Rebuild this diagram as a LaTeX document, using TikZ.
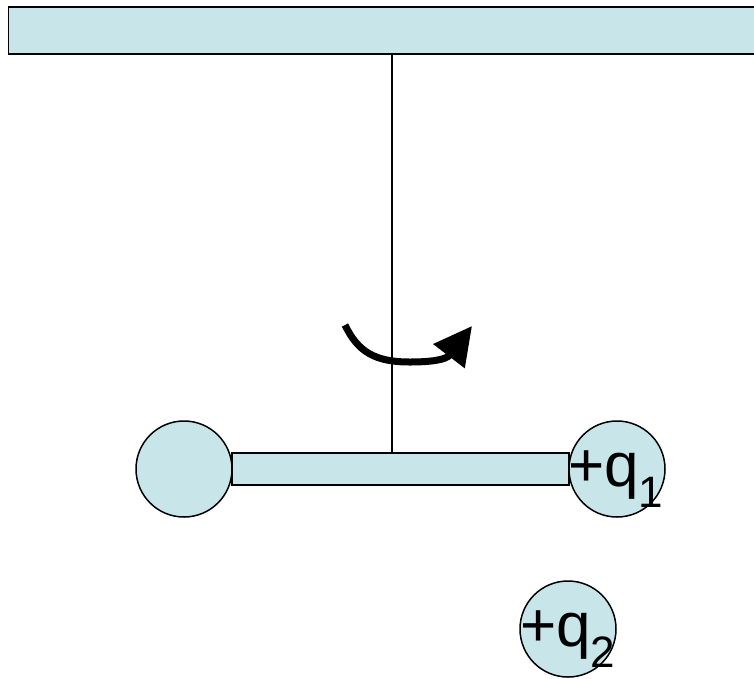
\documentclass[tikz,border=0pt]{standalone}
\usepackage{fontspec}
\setmainfont{Liberation Sans}
\usetikzlibrary{arrows.meta}
\definecolor{palecyan}{HTML}{C8E6E9}
\tikzset{
bar/.style = {draw, fill=palecyan, rectangle, inner sep=0pt, line width=1.5pt},
ball/.style = {draw, fill=palecyan, circle, inner sep=0pt, minimum size=96pt, line width=1.5pt},
charge/.style = {anchor=base west, inner sep=0pt, font=\fontsize{62}{62}\selectfont},
tmp/.style = {coordinate}
}
\newcommand{\chargetext}[1]{+q\raisebox{-21pt}{\fontsize{44}{44}\selectfont #1}}

\begin{document}
\begin{tikzpicture}[x=1pt, y=-1pt, >={Triangle[length=38pt,width=38pt]}]
    \useasboundingbox (0,0) rectangle (754,678);
    % the support and the hanging rod
    \node [bar, minimum width=772pt, minimum height=47pt, anchor=north west] (ceiling) at (7.5,6) {};
    \node [bar, minimum width=337pt, minimum height=32pt] (rod) at (400.5,469) {};
    \node [ball] (left) at (184,469) {};
    \node [ball] (right) at (617,469) {};
    \node [ball] (lower) at (568,629) {};
    \node [tmp] (pivot) at (392,453) {};
    \node [tmp] (start) at (345,325) {};
    \node [tmp] (low) at (410,362) {};
    \node [tmp] (tip) at (472,326) {};

    % labels
    \node [charge] (q1) at (568,486) {\chargetext{1}};
    \node [charge] (q2) at (520,646) {\chargetext{2}};

    % wire and the turning arrow
    \draw [line width=1.5pt] (pivot) -- (pivot |- ceiling.south);
    \draw [->, line width=7pt] (start) .. controls (358,352) and (375,362) .. (low)
        .. controls (430,362) and (446,360) .. (tip);
\end{tikzpicture}
\end{document}
